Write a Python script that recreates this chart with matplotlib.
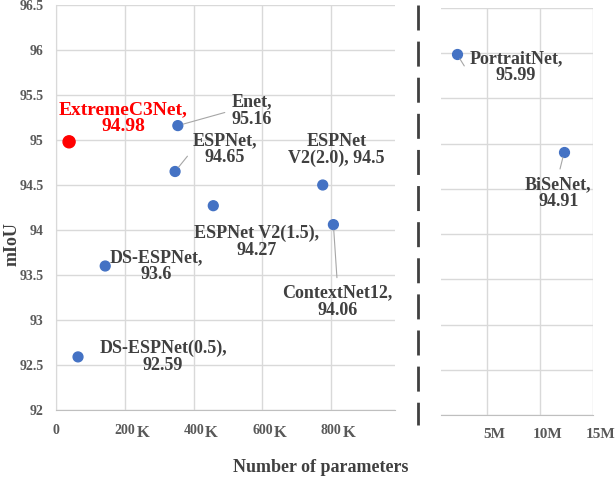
import matplotlib
matplotlib.use("Agg")
import matplotlib.pyplot as plt
import matplotlib.transforms as mtransforms
from matplotlib.lines import Line2D

# small models, parameters in K
small_names = ["ExtremeC3Net", "Enet", "ESPNet", "ESPNet V2(2.0)", "ESPNet V2(1.5)",
               "ContextNet12", "DS-ESPNet", "DS-ESPNet(0.5)"]
small_params_k = [38, 354, 346, 775, 457, 806, 143, 64]
small_miou = [94.98, 95.16, 94.65, 94.5, 94.27, 94.06, 93.6, 92.59]
small_labels = ["ExtremeC3Net,\n94.98", "Enet,\n95.16", "ESPNet,\n94.65",
                "ESPNet\nV2(2.0), 94.5", "ESPNet V2(1.5),\n94.27",
                "ContextNet12,\n94.06", "DS-ESPNet,\n93.6", "DS-ESPNet(0.5),\n92.59"]

# large models, parameters in M
large_names = ["PortraitNet", "BiSeNet"]
large_params_m = [2.2, 12.3]
large_miou = [95.99, 94.91]
large_labels = ["PortraitNet,\n95.99", "BiSeNet,\n94.91"]

y_ticks = [92, 92.5, 93, 93.5, 94, 94.5, 95, 95.5, 96, 96.5]
k_ticks = [0, 200, 400, 600, 800]
m_ticks = [5, 10, 15]

FONT = "Liberation Serif"
TICK_COLOR = "#595959"
TEXT_COLOR = "#404040"
GRID_COLOR = "#d9d9d9"
BLUE = "#4472C4"
RED = "#FF0000"

# label offsets in pixels and leader settings (relpos on text box or None)
small_offsets = [(54, 24), (74, 15), (50, 22), (14, 35), (43, -36), (4, -77), (51, 0), (85, 0)]
small_leaders = [None, (0, 0.5), (0, 0.5), None, None, (0.5, 1), None, None]
large_offsets = [(59, -13), (-6, -41)]
large_leaders = [(0, 0.3), (0.5, 1)]

fig = plt.figure(figsize=(6.16, 4.78), dpi=100)
ax_k = fig.add_axes([56 / 616, 68 / 478, 339 / 616, 405 / 478])
ax_m = fig.add_axes([441 / 616, 63 / 478, 152 / 616, 407 / 478])


def style_axis(ax):
    ax.set_ylim(92, 96.5)
    ax.set_yticks(y_ticks)
    ax.grid(True, color=GRID_COLOR, linewidth=1)
    ax.set_axisbelow(True)
    for side in ["top", "right", "left"]:
        ax.spines[side].set_visible(False)
    ax.spines["bottom"].set_color("#bfbfbf")
    ax.tick_params(length=0)


style_axis(ax_k)
ax_k.spines["left"].set_visible(True)
ax_k.spines["left"].set_color(GRID_COLOR)
ax_k.set_xlim(0, 985)
ax_k.set_xticks(k_ticks)
ax_k.set_xticklabels([str(v) for v in k_ticks], fontfamily=FONT, fontweight="bold",
                     fontsize=10, color=TICK_COLOR)
ax_k.set_yticklabels([f"{v:g}" for v in y_ticks], fontfamily=FONT, fontweight="bold",
                     fontsize=10, color=TICK_COLOR)
ax_k.tick_params(axis="x", pad=10)
ax_k.tick_params(axis="y", pad=9)
for v in k_ticks[1:]:
    ax_k.annotate("K", xy=(v, 0), xycoords=("data", "axes fraction"),
                  xytext=(18, -23), textcoords="offset pixels", ha="center", va="center",
                  fontfamily=FONT, fontweight="bold", fontsize=12, color=TICK_COLOR,
                  annotation_clip=False)

style_axis(ax_m)
ax_m.set_xlim(0.7, 15)
ax_m.set_xticks(m_ticks)
ax_m.set_xticklabels([f"{v}M" for v in m_ticks], fontfamily=FONT, fontweight="bold",
                     fontsize=11, color=TICK_COLOR)
ax_m.tick_params(axis="y", left=False, labelleft=False)
ax_m.tick_params(axis="x", pad=9)
shift = mtransforms.ScaledTranslation(8 / 100, 0, fig.dpi_scale_trans)
for lbl in ax_m.get_xticklabels():
    lbl.set_transform(lbl.get_transform() + shift)

# points
colors = [RED] + [BLUE] * (len(small_names) - 1)
ax_k.scatter(small_params_k, small_miou, s=[75] + [50] * (len(small_names) - 1),
             c=colors, zorder=3, clip_on=False)
ax_m.scatter(large_params_m, large_miou, s=50, c=BLUE, zorder=3)


def label_points(ax, xs, ys, labels, offsets, leaders, text_colors, sizes):
    for x, y, text, off, rel, tc, fs in zip(xs, ys, labels, offsets, leaders,
                                           text_colors, sizes):
        arrow = None
        if rel is not None:
            arrow = dict(arrowstyle="-", color="#a6a6a6", lw=0.8, relpos=rel,
                         shrinkA=3, shrinkB=4)
        ax.annotate(text, xy=(x, y), xytext=off, textcoords="offset pixels",
                    ha="center", va="center", multialignment="center",
                    fontfamily=FONT, fontweight="bold", fontsize=fs, color=tc,
                    linespacing=1.0, arrowprops=arrow, annotation_clip=False)


label_points(ax_k, small_params_k, small_miou, small_labels, small_offsets, small_leaders,
             [RED] + [TEXT_COLOR] * (len(small_names) - 1),
             [14] + [13] * (len(small_names) - 1))
label_points(ax_m, large_params_m, large_miou, large_labels, large_offsets, large_leaders,
             [TEXT_COLOR] * 2, [13] * 2)

# dashed break line between the two panels
fig.add_artist(Line2D([418 / 616, 418 / 616], [1 - 5 / 478, 1 - 425 / 478],
                      color="#404040", lw=2, linestyle=(0, (9, 4))))

fig.text(321 / 616, 1 - 467 / 478, "Number of parameters", ha="center", va="center",
         fontfamily=FONT, fontweight="bold", fontsize=13, color=TEXT_COLOR)
fig.text(12 / 616, 1 - 244 / 478, "mIoU", ha="center", va="center", rotation=90,
         fontfamily=FONT, fontweight="bold", fontsize=13, color=TEXT_COLOR)

fig.savefig("out.png", dpi=100)
